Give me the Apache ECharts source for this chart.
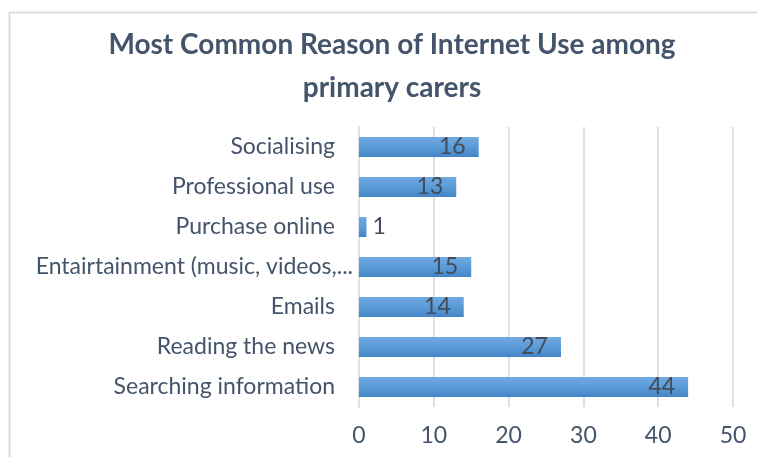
<!DOCTYPE html>
<html>
<head>
<meta charset="utf-8">
<script src="https://cdn.jsdelivr.net/npm/echarts@6/dist/echarts.min.js"></script>
<style>
  html, body { margin: 0; padding: 0; background: #fff; }
  #chart { width: 757px; height: 457px; }
</style>
</head>
<body>
<div id="chart"></div>
<script>
// Reasons, listed bottom-to-top as on the category axis
const reasons = [
  "Searching information",
  "Reading the news",
  "Emails",
  "Entairtainment (music, videos,",
  "Purchase online",
  "Professional use",
  "Socialising"
];
// Number of primary carers giving each reason
const counts = [44, 27, 14, 15, 1, 13, 16];
// Value axis ticks
const xTicks = [0, 10, 20, 30, 40, 50];
// Labels that were shortened on the axis get a trailing ellipsis
const shortened = [false, false, false, true, false, false, false];

const titleText = "Most Common Reason of Internet Use among\nprimary carers";
const textColor = "#44546A";
const fontFamily = "Lato, 'Open Sans', sans-serif";

const chart = echarts.init(document.getElementById("chart"), null, { renderer: "canvas" });

const barData = counts.map(function (v) {
  const item = { value: v };
  // too short for an inside label: put the number just past the bar end
  if (v < 3) {
    item.label = { position: "right", distance: 6 };
  }
  return item;
});

chart.setOption({
  animation: false,
  backgroundColor: "#fff",
  graphic: [{
    type: "rect",
    shape: { x: 9.5, y: 12.5, width: 800, height: 500 },
    style: { fill: "none", stroke: "#D9DEE5", lineWidth: 2 },
    silent: true
  }],
  title: {
    text: titleText,
    left: 387,
    textAlign: "center",
    top: 18,
    textStyle: {
      fontFamily: fontFamily,
      fontWeight: "bold",
      fontSize: 28,
      lineHeight: 43,
      color: textColor
    }
  },
  grid: { left: 359, right: 24, top: 127, bottom: 50, containLabel: false },
  xAxis: {
    type: "value",
    min: xTicks[0],
    max: xTicks[xTicks.length - 1],
    interval: xTicks[1] - xTicks[0],
    axisLine: { show: false },
    axisTick: { show: false },
    splitLine: { lineStyle: { color: "#DDE1E7", width: 2 } },
    axisLabel: {
      margin: 17,
      fontFamily: fontFamily,
      fontSize: 23,
      color: textColor
    }
  },
  yAxis: {
    type: "category",
    data: reasons,
    axisLine: { show: true, lineStyle: { color: "#DDE1E7", width: 2 } },
    axisTick: { show: false },
    axisLabel: {
      margin: 6,
      fontFamily: fontFamily,
      fontSize: 23,
      color: textColor,
      formatter: function (value, idx) {
        return shortened[idx] ? "{t|" + value + "}{e|...}" : "{n|" + value + "}";
      },
      rich: {
        n: { fontFamily: fontFamily, fontSize: 23, color: textColor, padding: [0, 18, 0, 0] },
        t: { fontFamily: fontFamily, fontSize: 23, color: textColor },
        e: { fontFamily: fontFamily, fontSize: 23, color: textColor }
      }
    }
  },
  series: [{
    type: "bar",
    data: barData,
    barCategoryGap: "50%",
    itemStyle: {
      color: new echarts.graphic.LinearGradient(0, 0, 0, 1, [
        { offset: 0, color: "#72AADF" },
        { offset: 0.5, color: "#5B9BD8" },
        { offset: 1, color: "#4384C9" }
      ])
    },
    label: {
      show: true,
      position: "insideRight",
      distance: 13,
      fontFamily: fontFamily,
      fontSize: 23,
      color: "#404B5C"
    }
  }]
});
</script>
</body>
</html>
